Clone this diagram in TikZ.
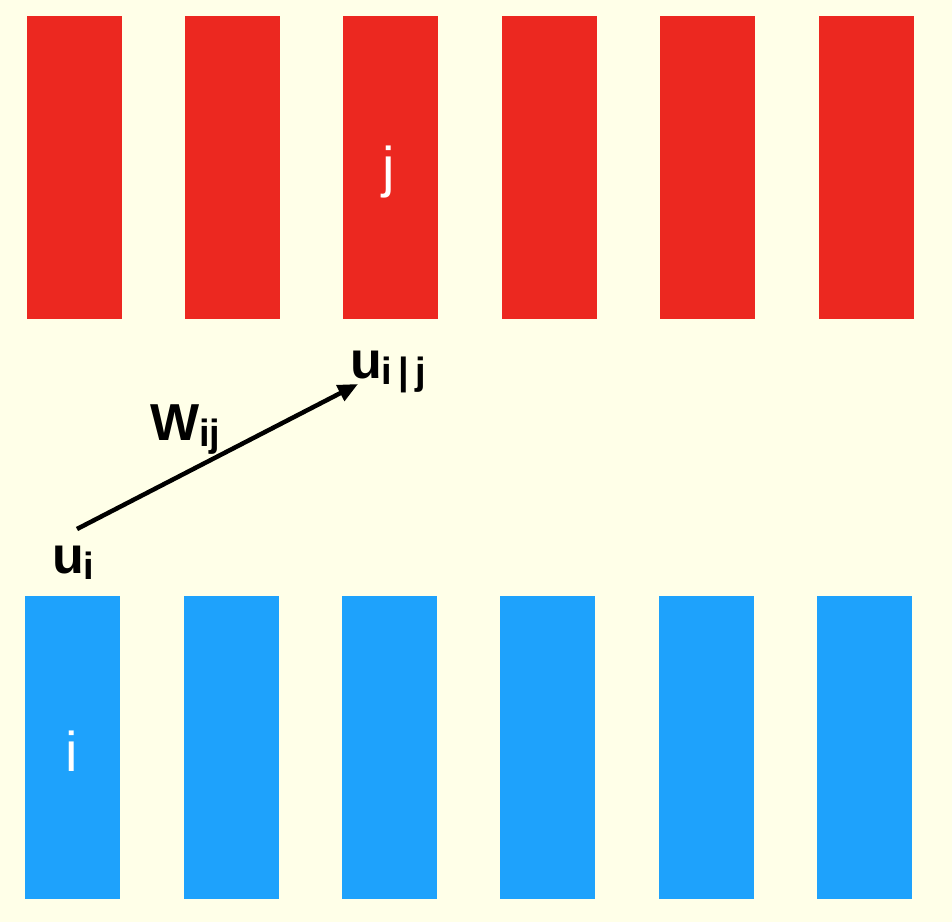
\documentclass[tikz,border=0pt]{standalone}
\usepackage{fontspec}
\setmainfont{Liberation Sans}
\usetikzlibrary{arrows.meta}
\definecolor{bg}{RGB}{255,255,232}
\definecolor{barred}{RGB}{236,40,32}
\definecolor{barblue}{RGB}{30,162,252}
\begin{document}
\begin{tikzpicture}[x=1pt,y=-1pt,
  redbar/.style={fill=barred,draw=none},
  bluebar/.style={fill=barblue,draw=none},
  bartext/.style={text=white,font=\fontsize{56}{58}\selectfont,inner sep=0pt},
  lbl/.style={font=\bfseries\fontsize{52}{54}\selectfont,inner sep=0pt,anchor=base west},
  vec/.style={line width=4.5pt,-{Triangle[length=20pt,width=17pt]}}]
\fill[bg] (0,0) rectangle (952,922);
\useasboundingbox (0,0) rectangle (952,922);
% red bars
\foreach \n/\x in {1/27,2/185,3/343,4/502,5/660,6/819}
  \fill[redbar] (\x,16) rectangle ++(94.5,303);
% blue bars
\foreach \n/\x in {1/25,2/184,3/342,4/500,5/659,6/817}
  \fill[bluebar] (\x,596) rectangle ++(95,303);
\node[bartext] (jlab) at (389,172) {j};
\node[bartext] (ilab) at (72,751) {i};
\node[lbl] (ui) at (52,573) {u\raisebox{-6pt}{\fontsize{38}{40}\selectfont i}};
\node[lbl] (uij) at (350,378) {u\raisebox{-6pt}{\fontsize{38}{40}\selectfont i\,|\,j}};
\node[lbl] (wij) at (150,440) {W\raisebox{-6pt}{\fontsize{38}{40}\selectfont ij}};
\coordinate (start) at (77,529);
\coordinate (tip) at (358,384);
\draw[vec] (start) -- (tip);
\end{tikzpicture}
\end{document}
